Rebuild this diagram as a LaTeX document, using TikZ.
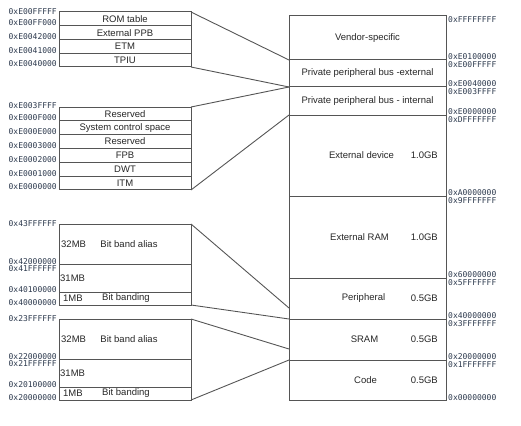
\documentclass[tikz,border=0pt]{standalone}
\usepackage{fontspec}
\setmainfont{Liberation Sans}
\newfontfamily\addrfont{DejaVu Sans Mono}
\usepackage{tikz}
\usetikzlibrary{positioning}
\definecolor{addrblue}{RGB}{45,58,78}
\definecolor{linegray}{RGB}{85,85,85}
\tikzset{
  region/.style={draw=linegray, line width=1pt, inner sep=0pt, outer sep=0pt, minimum width=157pt, font=\fontsize{9.5}{11}\selectfont, text=black!85},
  row/.style={draw=linegray, line width=1pt, inner sep=0pt, outer sep=0pt, minimum width=132pt, font=\fontsize{9.5}{11}\selectfont, text=black!85},
  lbl/.style={inner sep=0pt, font=\fontsize{9.5}{11}\selectfont, text=black!85},
  addr/.style={inner sep=0pt, font=\addrfont\fontsize{8}{9}\selectfont, text=addrblue},
  link/.style={draw=linegray, line width=0.9pt}
}
\begin{document}
\begin{tikzpicture}[x=1pt, y=-1pt]
    \useasboundingbox (0,0) rectangle (521,425);
    % memory map
    \node[region, minimum height=44pt] at (367.5, 38) (vendor) {Vendor-specific};
    \node[region, minimum height=27pt, below=0pt of vendor] (ppbext) {Private peripheral bus -external};
    \node[region, minimum height=28pt, below=0pt of ppbext] (ppbint) {Private peripheral bus - internal};
    \node[region, minimum height=81pt, below=0pt of ppbint] (extdev) {};
    \node[region, minimum height=82pt, below=0pt of extdev] (extram) {};
    \node[region, minimum height=41pt, below=0pt of extram] (periph) {};
    \node[region, minimum height=41pt, below=0pt of periph] (sram) {};
    \node[region, minimum height=40pt, below=0pt of sram] (code) {};
    \node[lbl] at ([xshift=-6pt]extdev.center) (extdevname) {External device};
    \node[lbl, anchor=east] at ([xshift=-8pt]extdev.east) (extdevsize) {1.0GB};
    \node[lbl] at ([xshift=-8pt]extram.center) (extramname) {External RAM};
    \node[lbl, anchor=east] at ([xshift=-8pt]extram.east) (extramsize) {1.0GB};
    \node[lbl] at ([xshift=-4pt]periph.center) (periphname) {Peripheral};
    \node[lbl, anchor=east] at ([xshift=-8pt]periph.east) (periphsize) {0.5GB};
    \node[lbl] at ([xshift=-3pt]sram.center) (sramname) {SRAM};
    \node[lbl, anchor=east] at ([xshift=-8pt]sram.east) (sramsize) {0.5GB};
    \node[lbl] at ([xshift=-2pt]code.center) (codename) {Code};
    \node[lbl, anchor=east] at ([xshift=-8pt]code.east) (codesize) {0.5GB};
    % right addresses
    \node[addr, anchor=north west] at ([xshift=2pt]vendor.north east) (r0) {0xFFFFFFFF};
    \node[addr, anchor=base west] at ([xshift=2pt, yshift=0.5pt]vendor.south east) (r1) {0xE0100000};
    \node[addr, anchor=north west] at ([xshift=2pt, yshift=-1pt]ppbext.north east) (r2) {0xE00FFFFF};
    \node[addr, anchor=base west] at ([xshift=2pt, yshift=0.5pt]ppbext.south east) (r3) {0xE0040000};
    \node[addr, anchor=north west] at ([xshift=2pt, yshift=-1pt]ppbint.north east) (r4) {0xE003FFFF};
    \node[addr, anchor=base west] at ([xshift=2pt, yshift=0.5pt]ppbint.south east) (r5) {0xE0000000};
    \node[addr, anchor=north west] at ([xshift=2pt, yshift=-1pt]extdev.north east) (r6) {0xDFFFFFFF};
    \node[addr, anchor=base west] at ([xshift=2pt, yshift=0.5pt]extdev.south east) (r7) {0xA0000000};
    \node[addr, anchor=north west] at ([xshift=2pt, yshift=-1pt]extram.north east) (r8) {0x9FFFFFFF};
    \node[addr, anchor=base west] at ([xshift=2pt, yshift=0.5pt]extram.south east) (r9) {0x60000000};
    \node[addr, anchor=north west] at ([xshift=2pt, yshift=-1pt]periph.north east) (r10) {0x5FFFFFFF};
    \node[addr, anchor=base west] at ([xshift=2pt, yshift=0.5pt]periph.south east) (r11) {0x40000000};
    \node[addr, anchor=north west] at ([xshift=2pt, yshift=-1pt]sram.north east) (r12) {0x3FFFFFFF};
    \node[addr, anchor=base west] at ([xshift=2pt, yshift=0.5pt]sram.south east) (r13) {0x20000000};
    \node[addr, anchor=north west] at ([xshift=2pt, yshift=-1pt]code.north east) (r14) {0x1FFFFFFF};
    \node[addr, anchor=base west] at ([xshift=2pt]code.south east) (r15) {0x00000000};
    % external ppb
    \node[row, minimum height=13.75pt] at (125, 18.875) (rom) {ROM table};
    \node[row, minimum height=13.75pt, below=0pt of rom] (extppb) {External PPB};
    \node[row, minimum height=13.75pt, below=0pt of extppb] (etm) {ETM};
    \node[row, minimum height=13.75pt, below=0pt of etm] (tpiu) {TPIU};
    \node[addr, anchor=east] at ([xshift=-2pt]rom.north west) (a0) {0xE00FFFFF};
    \node[addr, anchor=base east] at ([xshift=-2pt]rom.south west) (a1) {0xE00FF000};
    \node[addr, anchor=base east] at ([xshift=-2pt]extppb.south west) (a2) {0xE0042000};
    \node[addr, anchor=base east] at ([xshift=-2pt]etm.south west) (a3) {0xE0041000};
    \node[addr, anchor=base east] at ([xshift=-2pt]tpiu.south west) (a4) {0xE0040000};
    % internal ppb
    \node[row, minimum height=13.83pt] at (125, 113.92) (rsvda) {Reserved};
    \node[row, minimum height=13.83pt, below=0pt of rsvda] (scs) {System control space};
    \node[row, minimum height=13.83pt, below=0pt of scs] (rsvdb) {Reserved};
    \node[row, minimum height=13.83pt, below=0pt of rsvdb] (fpb) {FPB};
    \node[row, minimum height=13.83pt, below=0pt of fpb] (dwt) {DWT};
    \node[row, minimum height=13.83pt, below=0pt of dwt] (itm) {ITM};
    \node[addr, anchor=east] at ([xshift=-2pt, yshift=1pt]rsvda.north west) (b0) {0xE003FFFF};
    \node[addr, anchor=base east] at ([xshift=-2pt]rsvda.south west) (b1) {0xE000F000};
    \node[addr, anchor=base east] at ([xshift=-2pt]scs.south west) (b2) {0xE000E000};
    \node[addr, anchor=base east] at ([xshift=-2pt]rsvdb.south west) (b3) {0xE0003000};
    \node[addr, anchor=base east] at ([xshift=-2pt]fpb.south west) (b4) {0xE0002000};
    \node[addr, anchor=base east] at ([xshift=-2pt]dwt.south west) (b5) {0xE0001000};
    \node[addr, anchor=base east] at ([xshift=-2pt]itm.south west) (b6) {0xE0000000};
    % peripheral bit band
    \node[row, minimum height=40pt] at (125, 244) (alias) {};
    \node[row, minimum height=28pt, below=0pt of alias] (mid) {};
    \node[row, minimum height=13pt, below=0pt of mid] (band) {};
    \node[lbl, anchor=west] at ([xshift=2pt]alias.west) (aliassize) {32MB};
    \node[lbl] at ([xshift=4pt]alias.center) (aliasname) {Bit band alias};
    \node[lbl, anchor=west] at ([xshift=1pt]mid.west) (midsize) {31MB};
    \node[lbl, anchor=west] at ([xshift=4pt]band.west) (bandsize) {1MB};
    \node[lbl] at ([xshift=1pt]band.center) (bandname) {Bit banding};
    \node[addr, anchor=east] at ([xshift=-2pt]alias.north west) (c0) {0x43FFFFFF};
    \node[addr, anchor=base east] at ([xshift=-2pt]alias.south west) (c1) {0x42000000};
    \node[addr, anchor=north east] at ([xshift=-2pt, yshift=-1pt]mid.north west) (c2) {0x41FFFFFF};
    \node[addr, anchor=base east] at ([xshift=-2pt]mid.south west) (c3) {0x40100000};
    \node[addr, anchor=base east] at ([xshift=-2pt]band.south west) (c4) {0x40000000};
    % sram bit band
    \node[row, minimum height=40pt] at (125, 339) (aliastwo) {};
    \node[row, minimum height=28pt, below=0pt of aliastwo] (midtwo) {};
    \node[row, minimum height=13pt, below=0pt of midtwo] (bandtwo) {};
    \node[lbl, anchor=west] at ([xshift=2pt]aliastwo.west) (aliastwosize) {32MB};
    \node[lbl] at ([xshift=4pt]aliastwo.center) (aliastwoname) {Bit band alias};
    \node[lbl, anchor=west] at ([xshift=1pt]midtwo.west) (midtwosize) {31MB};
    \node[lbl, anchor=west] at ([xshift=4pt]bandtwo.west) (bandtwosize) {1MB};
    \node[lbl] at ([xshift=1pt]bandtwo.center) (bandtwoname) {Bit banding};
    \node[addr, anchor=east] at ([xshift=-2pt]aliastwo.north west) (d0) {0x23FFFFFF};
    \node[addr, anchor=base east] at ([xshift=-2pt]aliastwo.south west) (d1) {0x22000000};
    \node[addr, anchor=north east] at ([xshift=-2pt, yshift=-1pt]midtwo.north west) (d2) {0x21FFFFFF};
    \node[addr, anchor=base east] at ([xshift=-2pt]midtwo.south west) (d3) {0x20100000};
    \node[addr, anchor=base east] at ([xshift=-2pt]bandtwo.south west) (d4) {0x20000000};
    % zoom lines
    \draw[link] (rom.north east) -- (vendor.south west);
    \draw[link] (tpiu.south east) -- (ppbext.south west);
    \draw[link] (rsvda.north east) -- (ppbint.north west);
    \draw[link] (itm.south east) -- (ppbint.south west);
    \draw[link] (alias.north east) -- ([yshift=11pt]periph.south west);
    \draw[link] (band.south east) -- (periph.south west);
    \draw[link] (aliastwo.north east) -- ([yshift=11pt]sram.south west);
    \draw[link] (bandtwo.south east) -- (sram.south west);
\end{tikzpicture}
\end{document}
